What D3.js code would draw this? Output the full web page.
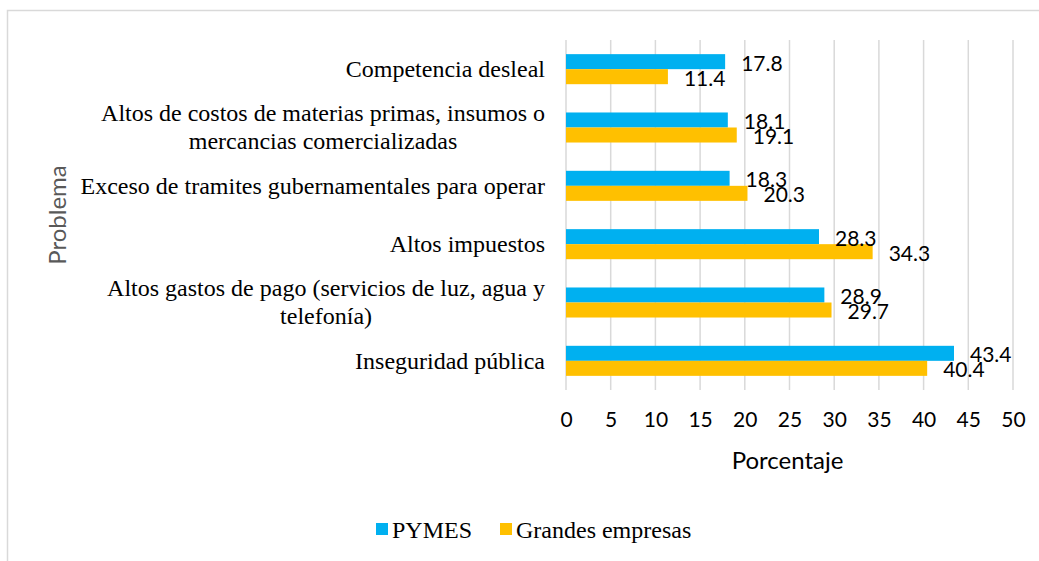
<!DOCTYPE html>
<html>
<head>
<meta charset="utf-8">
<script src="https://cdn.jsdelivr.net/npm/d3@7"></script>
<style>
  body { margin: 0; background: #fff; }
</style>
</head>
<body>
<div id="plot"></div>
<script>
// Chart data, top to bottom
var categories = [
  "Competencia desleal",
  "Altos de costos de materias primas, insumos o|mercancias comercializadas",
  "Exceso de tramites gubernamentales para operar",
  "Altos impuestos",
  "Altos gastos de pago (servicios de luz, agua y|telefonía)",
  "Inseguridad pública"
];
var pymes = [17.8, 18.1, 18.3, 28.3, 28.9, 43.4];
var grandes = [11.4, 19.1, 20.3, 34.3, 29.7, 40.4];
var seriesNames = ["PYMES", "Grandes empresas"];
var seriesColors = ["#00B0F0", "#FFC000"];
var xTicks = [0, 5, 10, 15, 20, 25, 30, 35, 40, 45, 50];

var svgWidth = 1039;
var svgHeight = 561;

// plot area
var margin = { top: 40, left: 566, right: 26, bottom: 171 };
var width = svgWidth - margin.left - margin.right;
var height = svgHeight - margin.top - margin.bottom;

var serif = "'Liberation Serif', 'Times New Roman', serif";
var sans = "Lato, 'Open Sans', sans-serif";

var svg = d3.select("#plot")
  .append("svg")
  .attr("width", svgWidth)
  .attr("height", svgHeight);

// outer frame
svg.append("rect")
  .attr("x", 7.5)
  .attr("y", 10.5)
  .attr("width", svgWidth + 10)
  .attr("height", svgHeight + 10)
  .attr("fill", "none")
  .attr("stroke", "#d9d9d9")
  .attr("stroke-width", 1.5);

var chartGroup = svg.append("g")
  .attr("transform", `translate(${margin.left}, ${margin.top})`);

var xScale = d3.scaleLinear()
  .domain([0, 50])
  .range([0, width]);

var yScale = d3.scaleBand()
  .domain(categories)
  .range([0, height])
  .paddingInner(0.485)
  .paddingOuter(0.2425);

var subScale = d3.scaleBand()
  .domain(seriesNames)
  .range([0, yScale.bandwidth()]);

// gridlines
chartGroup.append("g")
  .selectAll("line")
  .data(xTicks)
  .enter()
  .append("line")
  .attr("x1", d => xScale(d))
  .attr("x2", d => xScale(d))
  .attr("y1", 0)
  .attr("y2", height)
  .attr("stroke", "#d9d9d9")
  .attr("stroke-width", 1.5);

// bottom tick labels
var bottomAxis = d3.axisBottom(xScale)
  .tickValues(xTicks)
  .tickSize(0)
  .tickPadding(22);

var xAxisG = chartGroup.append("g")
  .attr("transform", `translate(0, ${height})`)
  .call(bottomAxis);
xAxisG.select(".domain").remove();
xAxisG.selectAll("text")
  .attr("font-family", sans)
  .attr("font-size", "21px")
  .attr("fill", "#000");

// category labels
var catFont = "24px";
var catG = chartGroup.append("g");
categories.forEach(function (c) {
  var lines = c.split("|");
  var cy = yScale(c) + yScale.bandwidth() / 2;
  var t = catG.append("text")
    .attr("font-family", serif)
    .attr("font-size", catFont)
    .attr("fill", "#000")
    .attr("text-anchor", "middle");
  var w = 0;
  // measure the widest line so lines can be centred under each other
  var probe = catG.append("text")
    .attr("font-family", serif)
    .attr("font-size", catFont);
  lines.forEach(function (l) {
    probe.text(l);
    w = Math.max(w, probe.node().getComputedTextLength());
  });
  probe.remove();
  var cx = -21 - w / 2;
  lines.forEach(function (l, i) {
    t.append("tspan")
      .attr("x", cx)
      .attr("y", cy + (i - (lines.length - 1) / 2) * 28)
      .attr("dy", "0.33em")
      .text(l);
  });
});

// bars
var rows = categories.map((c, i) => ({ cat: c, values: [pymes[i], grandes[i]] }));

var groups = chartGroup.selectAll(".grp")
  .data(rows)
  .enter()
  .append("g")
  .attr("transform", d => `translate(0, ${yScale(d.cat)})`);

groups.selectAll("rect")
  .data(d => d.values.map((v, j) => ({ v: v, s: seriesNames[j], j: j })))
  .enter()
  .append("rect")
  .attr("x", 0)
  .attr("y", d => subScale(d.s))
  .attr("width", d => xScale(d.v))
  .attr("height", subScale.bandwidth())
  .attr("fill", d => seriesColors[d.j]);

groups.selectAll(".val")
  .data(d => d.values.map((v, j) => ({ v: v, s: seriesNames[j] })))
  .enter()
  .append("text")
  .attr("x", d => xScale(d.v) + 16)
  .attr("y", d => subScale(d.s) + subScale.bandwidth() / 2 + 1.5)
  .attr("dy", "0.35em")
  .attr("font-family", sans)
  .attr("font-size", "21px")
  .attr("fill", "#000")
  .text(d => d.v.toFixed(1));

// axis titles
svg.append("text")
  .attr("x", margin.left + width / 2 - 2)
  .attr("y", 469)
  .attr("text-anchor", "middle")
  .attr("font-family", sans)
  .attr("font-size", "24px")
  .attr("fill", "#000")
  .text("Porcentaje");

svg.append("text")
  .attr("transform", "rotate(-90)")
  .attr("x", -215)
  .attr("y", 66)
  .attr("text-anchor", "middle")
  .attr("font-family", sans)
  .attr("font-size", "24px")
  .attr("fill", "#595959")
  .text("Problema");

// legend
var legendItems = [
  { name: seriesNames[0], color: seriesColors[0], x: 376 },
  { name: seriesNames[1], color: seriesColors[1], x: 500 }
];
var legend = svg.append("g");
legendItems.forEach(function (d) {
  legend.append("rect")
    .attr("x", d.x)
    .attr("y", 523)
    .attr("width", 12)
    .attr("height", 12)
    .attr("fill", d.color);
  legend.append("text")
    .attr("x", d.x + 16)
    .attr("y", 530)
    .attr("dy", "0.33em")
    .attr("font-family", serif)
    .attr("font-size", "24px")
    .attr("fill", "#000")
    .text(d.name);
});
</script>
</body>
</html>
